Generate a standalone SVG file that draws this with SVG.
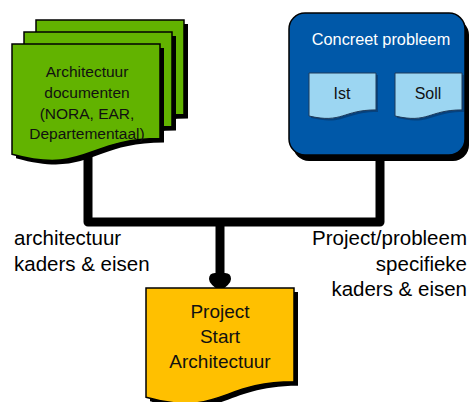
<svg xmlns="http://www.w3.org/2000/svg" width="470" height="402" viewBox="0 0 470 402">
<style>
.shadow{fill:#000}
.green{fill:#62B300;stroke:#000;stroke-width:1.5}
.blue{fill:#0058A8;stroke:#000;stroke-width:1.5}
.lblue{fill:#9CD6F2;stroke:#1F3A5A;stroke-width:1}
.orange{fill:#FFC000;stroke:#000;stroke-width:1.5}
.conn{fill:none;stroke:#000;stroke-width:9;stroke-linejoin:round}
.t{font-family:"Liberation Sans",Arial,sans-serif;text-anchor:middle;fill:#111}
.lbl{font-family:"Liberation Sans",Arial,sans-serif;font-size:20.5px;fill:#000}
</style>
<rect width="470" height="402" fill="#fff"/>
<g id="connectors">
<path class="conn" d="M88,150 V222 H380 V150"/>
<path class="conn" d="M220,222 V276"/>
<path fill="#000" d="M209,279 Q209,273 215,273 L225,273 Q231,273 231,279 Q231,284 220,291 Q209,284 209,279 Z"/>
</g>
<g id="architectuur-documenten">
<path class="shadow" d="M40,24 H188 V118.6 C114,118.6 114,154.6 40,134.2 Z"/>
<path class="green" d="M36,20 H184 V114.6 C110,114.6 110,150.6 36,130.2 Z"/>
<path class="shadow" d="M28,36 H176 V130.6 C102,130.6 102,166.6 28,146.2 Z"/>
<path class="green" d="M24,32 H172 V126.6 C98,126.6 98,162.6 24,142.2 Z"/>
<path class="shadow" d="M16,48 H164 V142.6 C90,142.6 90,178.6 16,158.2 Z"/>
<path class="green" d="M12,44 H160 V138.6 C86,138.6 86,174.6 12,154.2 Z"/>
<text class="t" font-size="15.5" x="87" y="77">Architectuur</text>
<text class="t" font-size="15.5" x="87" y="98">documenten</text>
<text class="t" font-size="15.5" x="87" y="119">(NORA, EAR,</text>
<text class="t" font-size="15.5" x="87" y="139">Departementaal)</text>
</g>
<g id="concreet-probleem">
<rect class="shadow" x="293" y="19" width="176" height="142" rx="16"/>
<rect class="blue" x="289" y="13" width="176" height="142" rx="16"/>
<text class="t" font-size="16.3" x="381" y="45" fill="#fff" style="fill:#fff">Concreet probleem</text>
</g>
<g id="ist">
<path fill="#0A2C55" opacity="0.5" d="M311,75 H378 V111.9 C344.5,111.9 344.5,125.9 311,118 Z"/>
<path class="lblue" d="M309,73 H376 V109.9 C342.5,109.9 342.5,123.9 309,116 Z"/>
<text class="t" font-size="16" x="342" y="99">Ist</text>
</g>
<g id="soll">
<path fill="#0A2C55" opacity="0.5" d="M397,75 H464 V111.9 C430.5,111.9 430.5,125.9 397,118 Z"/>
<path class="lblue" d="M395,73 H462 V109.9 C428.5,109.9 428.5,123.9 395,116 Z"/>
<text class="t" font-size="16" x="428" y="99">Soll</text>
</g>
<g id="project-start-architectuur">
<path class="shadow" d="M150,292 H298 V385.8 C224,385.8 224,421.5 150,401.3 Z"/>
<path class="orange" d="M146,288 H294 V381.8 C220,381.8 220,417.5 146,397.3 Z"/>
<text class="t" font-size="19" x="220" y="318">Project</text>
<text class="t" font-size="19" x="220" y="343">Start</text>
<text class="t" font-size="19" x="220" y="368">Architectuur</text>
</g>
<g id="labels">
<text class="lbl" x="14" y="245">architectuur</text>
<text class="lbl" x="14" y="271">kaders &amp; eisen</text>
<text class="lbl" x="467" y="245" text-anchor="end">Project/probleem</text>
<text class="lbl" x="467" y="271" text-anchor="end">specifieke</text>
<text class="lbl" x="467" y="296" text-anchor="end">kaders &amp; eisen</text>
</g>
</svg>
